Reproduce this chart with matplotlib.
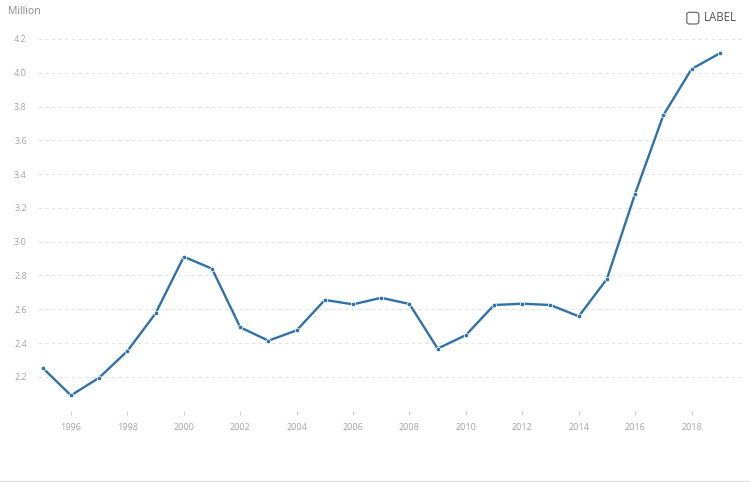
import matplotlib
matplotlib.use("Agg")
import matplotlib.pyplot as plt
from matplotlib.patches import FancyBboxPatch
from matplotlib.lines import Line2D

years = list(range(1995, 2020))
values = [2.252, 2.090, 2.195, 2.353, 2.576, 2.911, 2.840, 2.493, 2.414, 2.475,
          2.655, 2.629, 2.668, 2.631, 2.367, 2.447, 2.625, 2.633, 2.625, 2.558,
          2.779, 3.284, 3.748, 4.022, 4.115]
y_ticks = [2.2, 2.4, 2.6, 2.8, 3.0, 3.2, 3.4, 3.6, 3.8, 4.0, 4.2]
x_ticks = list(range(1996, 2020, 2))
unit_label = "Million"
legend_label = "LABEL"

plt.rcParams['font.family'] = ['Open Sans', 'DejaVu Sans']

fig = plt.figure(figsize=(7.5, 4.82), dpi=100)
ax = fig.add_axes([38/750, 1 - 410.6/482, (742-38)/750, (410.6-39)/482])

line_color = "#2e72a8"
ax.plot(years, values, color=line_color, lw=1.7, marker='o', markersize=3.2,
        markerfacecolor=line_color, markeredgecolor='white', markeredgewidth=0.5,
        zorder=3)

ax.set_xlim(1994.83, 2019.79)
ax.set_ylim(2.0, 4.2)
ax.set_yticks(y_ticks)
ax.set_yticklabels([f"{t:.1f}" for t in y_ticks])
ax.set_xticks(x_ticks)
ax.set_xticklabels([str(t) for t in x_ticks])

ax.grid(axis='y', color='#e3e3e3', linestyle=(0, (3, 3)), linewidth=0.8)
ax.set_axisbelow(True)
for s in ax.spines.values():
    s.set_visible(False)

ax.tick_params(axis='y', length=0, pad=8, labelsize=6.5, labelcolor='#a6a6a6')
ax.tick_params(axis='x', length=3, width=0.8, color='#cfcfcf', pad=6,
               labelsize=6.5, labelcolor='#a6a6a6', direction='out')

fig.text(8/750, 1 - 11/482, unit_label, fontsize=7.6, color='#8c8c8c',
         ha='left', va='center')

# legend checkbox
box = FancyBboxPatch((686.8/750, 1 - 24/482), 12/750, 11.7/482,
                     boxstyle="round,pad=0,rounding_size=0.004",
                     transform=fig.transFigure, facecolor='white',
                     edgecolor='#6e6e6e', linewidth=0.9)
fig.patches.append(box)
fig.text(703.5/750, 1 - 17.6/482, legend_label, fontsize=8.3, color='#555555',
         ha='left', va='center')

# bottom divider
fig.lines.append(Line2D([0, 1], [1 - 480.7/482, 1 - 480.7/482],
                        transform=fig.transFigure, color='#dddddd', lw=1))

fig.savefig("out.png", dpi=100)
